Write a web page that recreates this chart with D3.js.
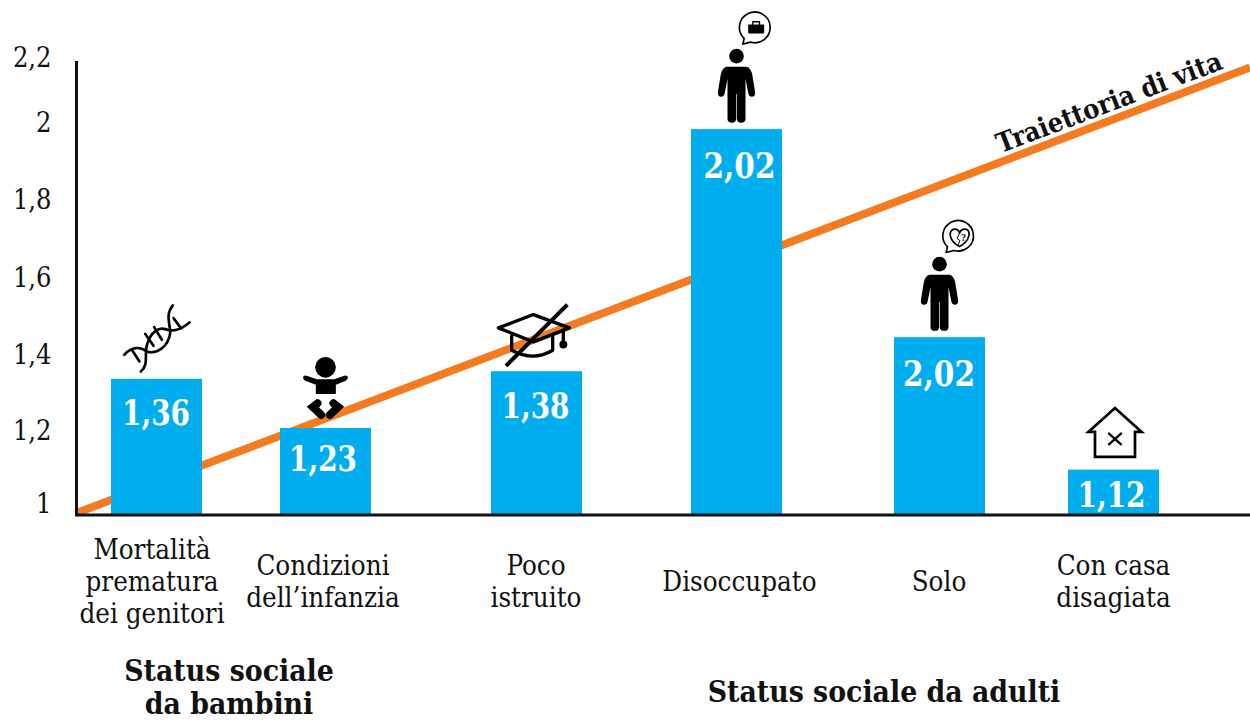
<!DOCTYPE html>
<html><head><meta charset="utf-8">
<script src="https://cdn.jsdelivr.net/npm/d3@7"></script>
<style>
html,body{margin:0;padding:0;background:#fff}
svg{display:block}
text{font-family:"DejaVu Serif Condensed","DejaVu Serif",serif;font-stretch:condensed;fill:#111}
</style></head><body>
<svg id="c" width="1250" height="721"></svg>
<script>
const categories=["Mortalità prematura","Condizioni","Poco istruito","Disoccupato","Solo","Con casa disagiata"];
const barValues=[1.36,1.23,1.38,2.02,1.47,1.12];
const valueLabels=["1,36","1,23","1,38","2,02","2,02","1,12"];
const categoryLines=[["Mortalità","prematura","dei genitori"],["Condizioni","dell’infanzia"],["Poco","istruito"],["Disoccupato"],["Solo"],["Con casa","disagiata"]];
const tickValues=[1,1.2,1.4,1.6,1.8,2,2.2];
const trajectoryValues=[1.005,2.183];
const trajectoryLabel="Traiettoria di vita";
const groupLabels=[["Status sociale","da bambini"],["Status sociale da adulti"]];

const svg=d3.select("#c");
const W=1250,H=721,x0=76.5,baseY=515;
const y=d3.scaleLinear().domain([1,2.2]).range([baseY,61]);
const x=d3.scaleOrdinal().domain(categories).range([156.5,325.5,536.5,736.5,939.5,1113.5]);
const xLabel=d3.scaleOrdinal().domain(categories).range([152,323,536,739.5,939,1113.5]);
const xValue=d3.scaleOrdinal().domain(categories).range([156,323,535.5,739.5,939,1111.5]);
const xLine=d3.scaleLinear().domain([0,1]).range([x0,W]);
const labelY=d3.scaleLinear().domain(tickValues).range([504,431,355,278,200,123,58]);
const barW=91,blue="#00adef",orange="#f47b20";

// trajectory (behind bars)
svg.append("path").datum(trajectoryValues)
 .attr("d",d3.line().x((d,i)=>xLine(i)).y(d=>y(d)))
 .attr("stroke",orange).attr("stroke-width",8).attr("fill","none");

const angle=Math.atan2(y(trajectoryValues[1])-y(trajectoryValues[0]),xLine(1)-xLine(0))*180/Math.PI;
svg.append("text").text(trajectoryLabel)
 .attr("transform",`translate(1109,102) rotate(${angle})`)
 .attr("text-anchor","middle").attr("dy","0.35em")
 .attr("font-size",27).attr("font-weight",700);

// bars
svg.selectAll("rect.bar").data(categories).join("rect").attr("class","bar")
 .attr("x",d=>x(d)-barW/2).attr("width",barW)
 .attr("y",(d,i)=>y(barValues[i])).attr("height",(d,i)=>baseY-y(barValues[i]))
 .attr("fill",blue);

// value labels
const labelOff=[46,43,47,49,49,37];
svg.selectAll("text.val").data(categories).join("text").attr("class","val")
 .text((d,i)=>valueLabels[i])
 .attr("x",d=>xValue(d)).attr("y",(d,i)=>y(barValues[i])+labelOff[i])
 .attr("text-anchor","middle").attr("font-size",36).attr("font-weight",700)
 .attr("textLength",(d,i)=>i===3||i===4?72:68).attr("lengthAdjust","spacingAndGlyphs")
 .style("fill","#fff");

// axes
const axisG=svg.append("g").attr("transform","translate(51.5,0)")
 .call(d3.axisLeft(labelY).tickValues(tickValues).tickSize(0).tickPadding(0)
   .tickFormat(d=>String(d).replace(".",",")));
axisG.select(".domain").remove();
axisG.selectAll("text").attr("font-size",27).style("font-family",'"DejaVu Serif Condensed","DejaVu Serif",serif').style("fill","#111");
svg.append("path").attr("d",`M${x0} ${y(2.2)}V${baseY}H${W}`).attr("fill","none").attr("stroke","#111").attr("stroke-width",3);

// category labels
const catG=svg.selectAll("g.cat").data(categories).join("g").attr("class","cat");
catG.each(function(d,i){
  const ls=categoryLines[i],n=ls.length,cy=583;
  d3.select(this).selectAll("text").data(ls).join("text").text(t=>t)
   .attr("x",xLabel(d)).attr("y",(t,j)=>cy+8+(j-(n-1)/2)*32)
   .attr("text-anchor","middle").attr("font-size",27.5);
});

// group labels
svg.append("text").attr("font-size",29.8).attr("font-weight",700)
 .selectAll("tspan").data(groupLabels[0]).join("tspan").text(d=>d)
 .attr("x",229).attr("y",(d,i)=>681+i*33).attr("text-anchor","middle");
svg.append("text").text(groupLabels[1][0]).attr("x",884).attr("y",702)
 .attr("text-anchor","middle").attr("font-size",29.8).attr("font-weight",700);

// icons, drawn in 3x units around (bar centre, bar top)
const icon=(i,cx,ty)=>svg.append("g")
 .attr("transform",`translate(${x(categories[i])},${y(barValues[i])}) scale(${1/3}) translate(${-cx},${-ty})`)
 .attr("fill","none").attr("stroke","#000").attr("stroke-linecap","round").attr("stroke-linejoin","round");

// DNA
const dna=icon(0,199,267).attr("stroke-width",8);
dna.append("path").attr("d","M152 245C178 225 160 190 172 160C182 128 205 112 225 118C245 125 265 125 298 98");
dna.append("path").attr("d","M102 195C125 170 150 170 170 185C200 195 235 170 240 130C240 100 225 75 248 47");
dna.selectAll("line").data([[125,180,148,215],[165,132,190,168],[192,112,215,150],[250,85,272,115]]).join("line")
 .attr("x1",d=>d[0]).attr("y1",d=>d[1]).attr("x2",d=>d[2]).attr("y2",d=>d[3]);

// Baby
const baby=icon(1,706,414);
baby.append("circle").attr("cx",706).attr("cy",232).attr("r",31).attr("fill","#000").attr("stroke","none");
baby.append("path").attr("fill","#000").attr("stroke","none")
 .attr("d","M677 312V284L645 272Q636 266 640 259Q645 254 652 258L680 268H732L760 258Q768 254 772 259Q776 266 767 272L737 284V312Z");
[[682,340,668,351,693,375],[730,340,744,351,719,375]].forEach(p=>{
 baby.append("path").attr("stroke-width",24).attr("d",`M${p[0]} ${p[1]}L${p[2]} ${p[3]}L${p[4]} ${p[5]}`).attr("stroke-linejoin","miter");
});

// Graduation cap, crossed
const cap=icon(2,169.5,228).attr("stroke-width",10);
cap.append("path").attr("d","M55 98L160 58L268 98L160 140Z");
cap.append("path").attr("d","M95 122V165Q160 200 218 165V122");
cap.append("path").attr("d","M250 105V148");
cap.append("circle").attr("cx",250).attr("cy",148).attr("r",7).attr("fill","#000");
cap.append("path").attr("stroke-width",12).attr("stroke-linecap","butt").attr("d","M78 212L262 28");

// People with bubbles
function person(g,cx,top){
 const P=`M${cx-30} ${top-187}H${cx+30}Q${cx+42} ${top-185} ${cx+47} ${top-165}L${cx+56} ${top-110}Q${cx+56} ${top-97} ${cx+46} ${top-97}Q${cx+37} ${top-97} ${cx+35} ${top-110}L${cx+27} ${top-150}V${top-30}Q${cx+27} ${top-19} ${cx+13} ${top-19}Q${cx+2} ${top-19} ${cx+1} ${top-30}V${top-105}H${cx-1}V${top-30}Q${cx-2} ${top-19} ${cx-13} ${top-19}Q${cx-27} ${top-19} ${cx-27} ${top-30}V${top-150}L${cx-35} ${top-110}Q${cx-37} ${top-97} ${cx-46} ${top-97}Q${cx-56} ${top-97} ${cx-56} ${top-110}L${cx-47} ${top-165}Q${cx-42} ${top-185} ${cx-30} ${top-187}Z`;
 g.append("circle").attr("cx",cx).attr("cy",top-219).attr("r",22).attr("fill","#000").attr("stroke","none");
 g.append("path").attr("d",P).attr("fill","#000").attr("stroke","none");
}
function bubble(g,cx,cy){
 g.append("path").attr("stroke-width",5).attr("fill","#fff")
  .attr("d",`M${cx-36} ${cy+31}L${cx-40} ${cy+48}L${cx-17} ${cy+42}A46 46 0 1 0 ${cx-36} ${cy+31}Z`);
}
const man1=icon(3,169,387); person(man1,169,387); bubble(man1,228,84);
man1.append("rect").attr("x",204).attr("y",73).attr("width",48).attr("height",27).attr("rx",3).attr("fill","#000").attr("stroke","none");
man1.append("path").attr("d","M218 73V65H238V73").attr("stroke-width",4);

const man2=icon(4,120,380); person(man2,120,380); bubble(man2,180,78);
man2.append("path").attr("stroke-width",5).attr("d","M180 108C145 90 146 56 166 56C174 56 179 62 180 68C182 62 188 56 196 56C216 56 214 90 180 108Z");
man2.append("path").attr("stroke-width",3).attr("d","M180 68L173 84L181 90L176 104");
man2.append("text").text("?").attr("x",192).attr("y",90).attr("text-anchor","middle").attr("font-size",26).attr("font-weight",700).style("fill","#000").attr("stroke","none");

// House
const house=icon(5,160.5,210).attr("stroke-width",8);
house.append("path").attr("stroke-linejoin","miter").attr("d","M105 97H85L165 25L245 97H225V172H105Z");
house.append("path").attr("d","M147 102L183 134M183 102L147 134").attr("stroke-width",7);
</script></body></html>
